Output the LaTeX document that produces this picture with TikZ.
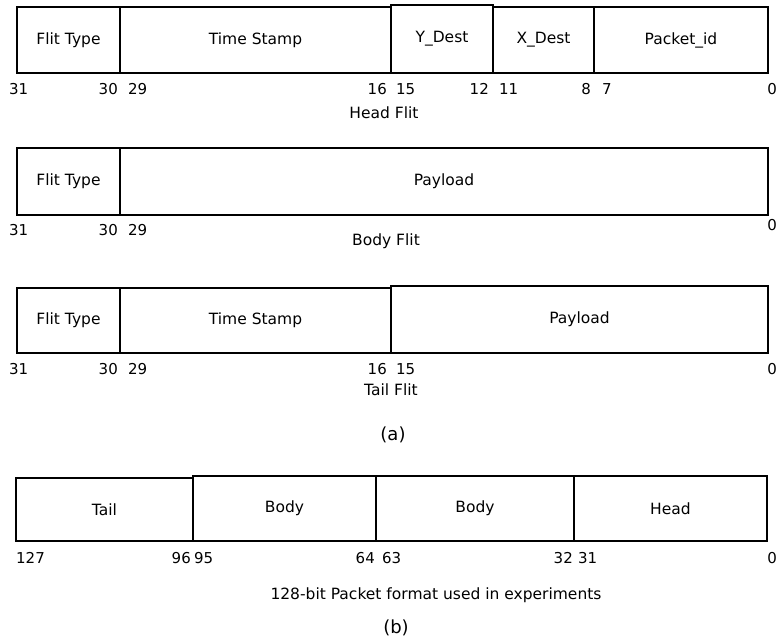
\documentclass[tikz,border=0pt]{standalone}
\usepackage{fontspec}
\setmainfont{DejaVu Sans}
\usetikzlibrary{positioning}

\begin{document}
\begin{tikzpicture}[
  x=1pt, y=-1pt,
  field/.style={draw, line width=2pt, inner sep=0pt, minimum height=66pt,
                font=\fontsize{15.5}{18}\selectfont},
  bitno/.style={inner sep=0pt, font=\fontsize{15}{18}\selectfont},
  lbl/.style={inner sep=0pt, font=\fontsize{15.5}{18}\selectfont},
  sub/.style={inner sep=0pt, font=\fontsize{18}{21}\selectfont}
]
\useasboundingbox (0,0) rectangle (776,641);
% Head flit
\node[field, minimum width=103pt] (hft)  at (68.5,40)  {Flit Type};
\node[field, minimum width=271pt] (hts)  at (255.5,40) {Time Stamp};
\node[field, minimum width=102pt, minimum height=68pt] (hyd) at (442,39) {Y\_Dest};
\node[field, minimum width=101pt] (hxd)  at (543.5,40) {X\_Dest};
\node[field, minimum width=174pt] (hpid) at (681,40)   {Packet\_id};
\node[bitno, anchor=base west] (h31) at ([xshift=-7pt, yshift=-20pt]hft.south west)  {31};
\node[bitno, anchor=base east] (h30) at ([xshift=-3pt, yshift=-20pt]hft.south east)  {30};
\node[bitno, anchor=base west] (h29) at ([xshift=9pt,  yshift=-20pt]hts.south west)  {29};
\node[bitno, anchor=base east] (h16) at ([xshift=-5pt, yshift=-20pt]hts.south east)  {16};
\node[bitno, anchor=base west] (h15) at ([xshift=6pt,  yshift=-20pt]hyd.south west)  {15};
\node[bitno, anchor=base east] (h12) at ([xshift=-5pt, yshift=-20pt]hyd.south east)  {12};
\node[bitno, anchor=base west] (h11) at ([xshift=7pt,  yshift=-20pt]hxd.south west)  {11};
\node[bitno, anchor=base east] (h8)  at ([xshift=-4pt, yshift=-20pt]hxd.south east)  {8};
\node[bitno, anchor=base west] (h7)  at ([xshift=9pt,  yshift=-20pt]hpid.south west) {7};
\node[bitno, anchor=base east] (h0)  at ([xshift=8pt,  yshift=-20pt]hpid.south east) {0};
\node[lbl] (headcap) at (384,113) {Head Flit};
% Body flit
\node[field, minimum width=103pt, minimum height=67pt] (bft) at (68.5,181.5) {Flit Type};
\node[field, minimum width=648pt, minimum height=67pt] (bpl) at (444,181.5)  {Payload};
\node[bitno, anchor=base west] (b31) at ([xshift=-7pt, yshift=-19pt]bft.south west) {31};
\node[bitno, anchor=base east] (b30) at ([xshift=-3pt, yshift=-19pt]bft.south east) {30};
\node[bitno, anchor=base west] (b29) at ([xshift=9pt,  yshift=-19pt]bpl.south west) {29};
\node[bitno, anchor=base east] (b0)  at ([xshift=8pt,  yshift=-14pt]bpl.south east) {0};
\node[lbl] (bodycap) at (386,241) {Body Flit};
% Tail flit
\node[field, minimum width=103pt, minimum height=65pt] (tft) at (68.5,320.5)  {Flit Type};
\node[field, minimum width=271pt, minimum height=65pt] (tts) at (255.5,320.5) {Time Stamp};
\node[field, minimum width=377pt, minimum height=67pt] (tpl) at (579.5,319.5) {Payload};
\node[bitno, anchor=base west] (t31) at ([xshift=-7pt, yshift=-20pt]tft.south west) {31};
\node[bitno, anchor=base east] (t30) at ([xshift=-3pt, yshift=-20pt]tft.south east) {30};
\node[bitno, anchor=base west] (t29) at ([xshift=9pt,  yshift=-20pt]tts.south west) {29};
\node[bitno, anchor=base east] (t16) at ([xshift=-5pt, yshift=-20pt]tts.south east) {16};
\node[bitno, anchor=base west] (t15) at ([xshift=6pt,  yshift=-20pt]tpl.south west) {15};
\node[bitno, anchor=base east] (t0)  at ([xshift=8pt,  yshift=-20pt]tpl.south east) {0};
\node[lbl] (tailcap) at (391,390) {Tail Flit};
\node[sub] (suba) at (393,435) {(a)};
% 128-bit packet
\node[field, minimum width=177pt, minimum height=63pt] (ptail)  at (104.5,509.5) {Tail};
\node[field, minimum width=183pt, minimum height=65pt] (pbody1) at (284.5,508.5) {Body};
\node[field, minimum width=198pt, minimum height=65pt] (pbody2) at (475,508.5)   {Body};
\node[field, minimum width=193pt, minimum height=65pt] (phead)  at (670.5,508.5) {Head};
\node[bitno, anchor=base west] (p127) at ([xshift=1pt,  yshift=-21pt]ptail.south west)  {127};
\node[bitno, anchor=base east] (p96)  at ([xshift=-3pt, yshift=-21pt]ptail.south east)  {96};
\node[bitno, anchor=base west] (p95)  at ([xshift=2pt,  yshift=-21pt]pbody1.south west) {95};
\node[bitno, anchor=base east] (p64)  at ([xshift=-2pt, yshift=-21pt]pbody1.south east) {64};
\node[bitno, anchor=base west] (p63)  at ([xshift=7pt,  yshift=-21pt]pbody2.south west) {63};
\node[bitno, anchor=base east] (p32)  at ([xshift=-2pt, yshift=-21pt]pbody2.south east) {32};
\node[bitno, anchor=base west] (p31)  at ([xshift=5pt,  yshift=-21pt]phead.south west)  {31};
\node[bitno, anchor=base east] (p0)   at ([xshift=9pt,  yshift=-21pt]phead.south east)  {0};
\node[lbl] (pktcap) at (436,595) {128-bit Packet format used in experiments};
\node[sub] (subb) at (396,628) {(b)};
\end{tikzpicture}
\end{document}
